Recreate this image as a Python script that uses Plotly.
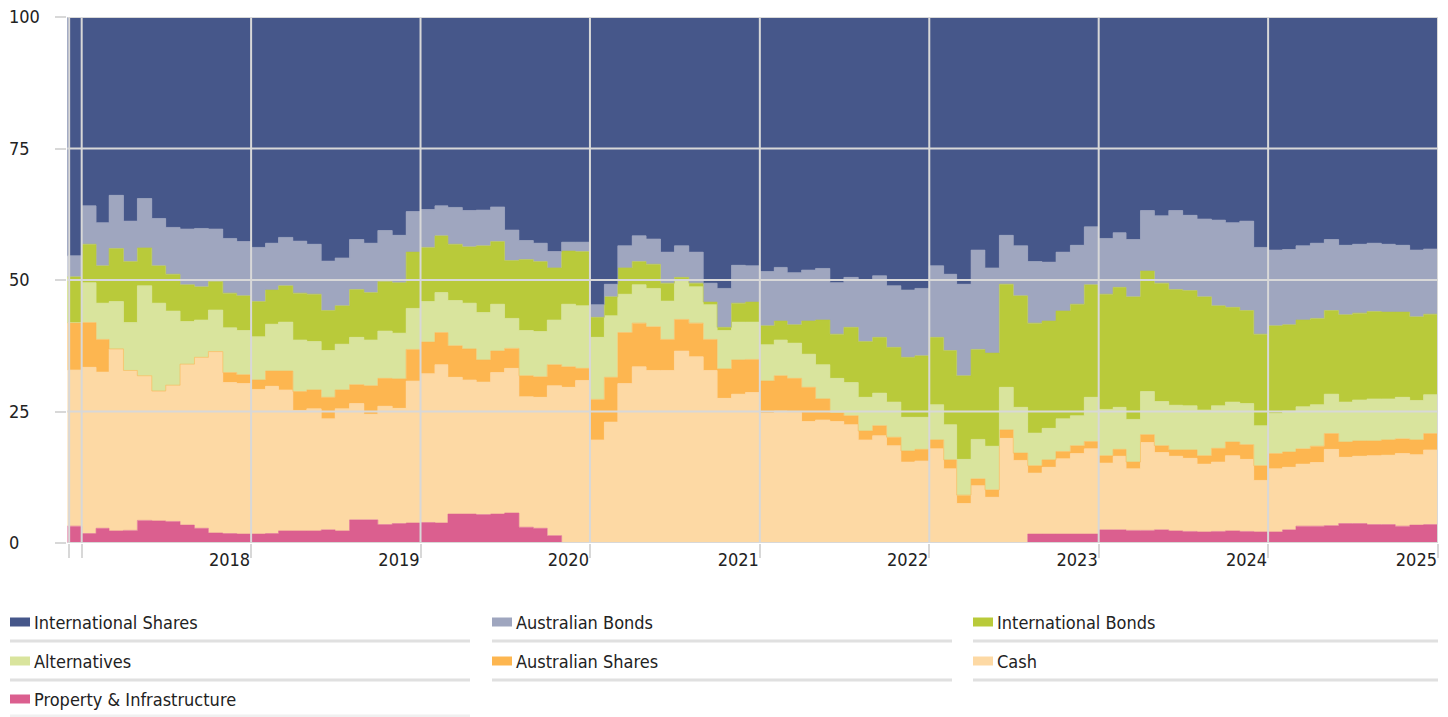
import pandas as pd
import plotly.graph_objects as go

# ---------------- data (monthly, Dec 2016 .. Dec 2024) ----------------
months = pd.date_range("2016-12-01", periods=97, freq="MS")

intl_shares = [45.4,35.9,39.1,33.9,38.8,34.5,38.3,40.0,40.3,40.2,40.3,42.1,42.7,
               43.8,43.0,41.9,42.6,43.2,46.4,45.8,42.3,43.0,40.6,41.5,37.0,
               36.6,35.9,36.2,36.8,36.7,36.1,40.5,42.5,43.0,44.6,42.8,42.8,
               54.7,50.8,43.5,41.6,42.2,44.7,43.5,44.7,50.6,51.6,47.2,47.3,
               48.4,47.6,48.6,48.1,47.8,50.5,49.5,50.0,49.2,51.1,51.9,51.6,
               47.3,48.9,50.8,44.3,47.7,41.5,43.5,46.5,46.6,44.7,43.4,39.9,
               42.1,41.0,42.3,36.8,37.8,36.8,37.7,38.4,38.6,39.1,38.8,43.8,
               44.3,44.2,43.5,43.0,42.3,43.4,43.2,43.0,43.2,43.4,44.3,44.1]
aus_bonds = [4.0,7.3,8.2,10.1,7.7,9.4,9.0,8.9,10.6,11.1,10.0,10.4,10.3,
             10.3,8.9,9.2,9.9,9.5,9.4,9.1,9.5,9.4,9.7,9.0,7.7,
             7.2,5.7,7.0,6.9,6.8,6.6,5.8,3.6,3.5,3.1,1.7,1.8,
             2.4,2.4,4.2,4.9,4.8,5.9,6.0,5.9,3.6,7.4,7.2,6.9,
             10.3,10.2,9.9,9.7,9.8,9.8,9.5,11.7,11.7,11.7,12.8,12.8,
             13.6,14.5,17.4,18.9,16.2,9.3,9.5,11.7,11.2,11.2,11.2,11.0,
             10.6,10.4,10.9,11.5,12.8,15.0,14.3,14.8,16.3,16.1,17.0,16.5,
             14.4,14.3,14.1,14.3,13.5,13.2,13.1,13.0,12.9,12.7,12.7,12.4]
intl_bonds = [8.7,7.3,7.1,10.1,11.6,7.2,7.1,7.0,7.0,6.3,5.4,6.6,6.6,
              6.7,6.5,6.9,8.9,9.0,7.6,7.3,9.1,9.0,9.4,9.6,10.7,
              10.3,10.8,10.7,10.7,12.7,11.9,11.0,13.5,13.3,9.9,10.1,10.3,
              3.8,3.6,5.0,4.4,4.6,3.4,0.5,0.7,0.5,0.6,3.6,3.8,
              3.6,3.6,3.5,6.3,8.5,8.4,10.5,10.6,10.6,10.4,11.4,11.7,
              12.8,14.1,15.9,17.1,17.7,19.6,21.2,20.9,20.4,20.5,21.2,21.4,
              21.9,22.8,23.3,22.9,22.5,22.0,21.9,21.5,19.0,18.0,17.7,17.4,
              16.7,16.4,16.5,16.4,15.9,16.6,16.5,16.6,16.5,16.2,15.9,15.3]
alternatives = [0.0,7.6,6.9,9.0,9.1,17.1,16.7,14.1,8.1,7.1,7.9,8.5,8.4,
                8.2,8.9,9.3,9.8,9.2,8.9,8.7,9.0,8.7,9.0,8.7,7.8,
                7.7,7.6,8.6,8.7,9.0,8.9,5.7,8.6,8.6,8.5,11.9,11.9,
                11.8,11.7,7.3,7.3,7.3,7.3,7.5,6.9,6.6,7.3,7.2,7.1,
                6.9,6.8,6.7,6.3,6.5,6.6,6.3,6.4,6.2,6.7,6.4,6.1,
                6.7,6.7,6.8,7.5,8.3,8.1,8.7,6.2,6.0,6.2,5.7,8.4,
                8.8,8.0,8.1,8.2,8.4,8.5,8.4,8.7,8.1,7.6,7.8,7.6,
                7.6,7.8,8.0,7.9,7.5,7.6,7.8,8.0,7.8,7.9,7.5,7.4]
aus_shares = [9.0,8.5,6.2,0.0,0.0,0.0,0.0,0.0,0.0,0.0,0.0,1.9,1.7,
              1.8,2.9,3.6,3.6,3.6,4.1,3.6,3.6,5.4,5.3,5.6,6.0,
              6.0,6.1,6.0,5.9,4.2,4.1,3.8,4.0,3.9,4.0,3.9,2.3,
              7.7,8.5,9.7,8.3,8.3,5.9,6.0,6.4,5.9,5.6,6.5,6.3,
              6.1,6.7,6.5,6.5,4.0,1.6,1.7,1.7,1.9,1.6,2.1,2.2,
              1.7,1.7,1.6,1.3,1.4,1.6,1.4,1.4,1.4,1.4,1.5,1.4,
              1.4,1.3,1.3,1.5,1.3,1.2,1.6,1.6,2.6,2.6,2.8,2.8,
              2.9,2.9,2.9,3.1,3.0,2.9,2.9,2.8,2.9,2.8,2.8,3.1]
cash = [29.7,31.6,29.7,34.6,30.4,27.5,24.7,25.9,30.6,32.5,34.5,28.7,28.6,
        27.5,28.0,26.8,22.9,23.2,21.1,23.2,22.1,20.1,22.5,21.9,27.0,
        28.3,30.1,26.0,25.5,25.2,26.9,27.5,24.8,24.9,28.5,29.6,30.9,
        19.6,23.0,30.3,33.5,32.8,32.8,36.5,35.4,32.8,27.5,28.3,28.6,
        24.7,25.1,24.8,23.1,23.4,23.1,22.5,19.6,20.4,18.5,15.4,15.6,
        17.9,14.1,7.5,10.9,8.7,19.9,15.7,11.6,12.7,14.3,15.3,16.2,
        12.7,14.0,11.7,16.7,14.7,14.2,13.9,12.9,13.2,14.3,13.7,9.8,
        12.0,11.9,11.8,12.1,14.5,12.6,12.8,13.1,13.2,13.8,13.4,14.2]
property_infra = [3.2,1.8,2.8,2.3,2.4,4.3,4.2,4.1,3.4,2.8,1.9,1.8,1.7,
                  1.7,1.8,2.3,2.3,2.3,2.5,2.3,4.4,4.4,3.5,3.7,3.8,
                  3.9,3.8,5.5,5.5,5.4,5.5,5.7,3.0,2.8,1.4,0,0,
                  0,0,0,0,0,0,0,0,0,0,0,0,
                  0,0,0,0,0,0,0,0,0,0,0,0,
                  0,0,0,0,0,0,0,1.7,1.7,1.7,1.7,1.7,
                  2.5,2.5,2.4,2.4,2.5,2.3,2.2,2.1,2.2,2.3,2.2,2.1,
                  2.1,2.5,3.2,3.2,3.3,3.7,3.7,3.5,3.5,3.2,3.4,3.5]

names = ["International Shares", "Australian Bonds", "International Bonds",
         "Alternatives", "Australian Shares", "Cash", "Property & Infrastructure"]
colors = ["#46578a", "#9fa6bf", "#b9ca3a", "#d9e49d", "#fdb650", "#fdd9a4", "#db5f8f"]
series = [intl_shares, aus_bonds, intl_bonds, alternatives, aus_shares, cash, property_infra]

x_ticks = ["2016-12-05"] + [f"{y}-01-01" for y in range(2017, 2026)]
x_tick_text = ["", ""] + [str(y) for y in range(2018, 2026)]
y_ticks = [0, 25, 50, 75, 100]

# ---------------- geometry (page has an 8px body margin) ----------------
OFF = 8
W, H = 1440, 709
L, R, T, B = 0, 10, 9, 174
PW, PH = W - L - R, H - T - B

def px(x):  # page pixel -> paper x
    return (x - OFF - L) / PW

def py(y):  # page pixel -> paper y
    return (H - B - (y - OFF)) / PH

FONT = "DejaVu Sans Condensed, DejaVu Sans, sans-serif"
FS = 18
TXT = "#222222"
GRID = "#d8d8d8"
x_dom0 = px(67.3)

# step series need the end of the last month
x_ext = list(months) + [pd.Timestamp("2025-01-01")]

fig = go.Figure()
for name, col, vals in reversed(list(zip(names, colors, series))):
    fig.add_trace(go.Scatter(
        x=x_ext, y=list(vals) + [vals[-1]], name=name, stackgroup="one",
        mode="lines", line=dict(shape="hv", width=0.6, color=col),
        fillcolor=col, showlegend=False, hoverinfo="x+y+name"))

# invisible trace carrying the label axis
fig.add_trace(go.Scatter(x=[months[0]], y=[0], yaxis="y2", mode="markers",
                         marker=dict(opacity=0), showlegend=False, hoverinfo="skip"))

shapes = []
# gridlines drawn over the areas
for xv in x_ticks:
    shapes.append(dict(type="line", xref="x", yref="paper", x0=xv, x1=xv, y0=0, y1=1,
                       line=dict(color=GRID, width=2), layer="above"))
for yv in y_ticks:
    shapes.append(dict(type="line", xref="paper", yref="y", x0=x_dom0, x1=1, y0=yv, y1=yv,
                       line=dict(color=GRID, width=2), layer="above"))

annotations = []
# legend (3 columns, separators under every row)
col_x = [10, 492, 973]
col_end = [470, 952, 1438]
row_y = [622, 661, 699]
sep_y = [641, 680, 716]
for k, (name, col) in enumerate(zip(names, colors)):
    r, c = divmod(k, 3)
    x0 = col_x[c]
    yc = row_y[r]
    shapes.append(dict(type="rect", xref="paper", yref="paper",
                       x0=px(x0), x1=px(x0 + 20), y0=py(yc + 4.5), y1=py(yc - 4.5),
                       fillcolor=col, line=dict(width=0)))
    annotations.append(dict(text=name, x=px(x0 + 22), y=py(yc), xref="paper", yref="paper",
                            xanchor="left", yanchor="middle", showarrow=False,
                            font=dict(family=FONT, size=FS, color=TXT)))
for r in range(3):
    for c in range(3):
        if r == 2 and c > 0:
            continue
        shapes.append(dict(type="line", xref="paper", yref="paper",
                           x0=px(col_x[c]), x1=px(col_end[c]), y0=py(sep_y[r]), y1=py(sep_y[r]),
                           line=dict(color="#e0e0e0" if r < 2 else "#f0f0f0", width=3)))

fig.update_layout(
    width=W, height=H,
    margin=dict(l=L, r=R, t=T, b=B, autoexpand=False),
    paper_bgcolor="white", plot_bgcolor="white",
    font=dict(family=FONT, size=FS, color=TXT),
    showlegend=False,
    xaxis=dict(type="date", domain=[x_dom0, 1], range=["2016-12-01", "2025-01-01"],
               tickmode="array", tickvals=x_ticks, ticktext=x_tick_text,
               ticks="outside", ticklen=14, tickwidth=2, tickcolor=GRID,
               ticklabelposition="outside left", ticklabeloverflow="allow",
               showgrid=False, zeroline=False,
               showline=False, tickfont=dict(family=FONT, size=FS, color=TXT)),
    yaxis=dict(range=[0, 100], tickmode="array", tickvals=y_ticks,
               ticks="outside", ticklen=11, tickwidth=2, tickcolor=GRID,
               showticklabels=False, showgrid=False, zeroline=False, showline=False),
    yaxis2=dict(range=[0, 100], overlaying="y", anchor="free", position=0, side="right",
                tickmode="array", tickvals=y_ticks, ticks="", showgrid=False,
                zeroline=False, showline=False, ticklabelstandoff=0,
                ticklabeloverflow="allow",
                tickfont=dict(family=FONT, size=FS, color=TXT)),
    shapes=shapes, annotations=annotations,
)

fig.write_html("out.html")
